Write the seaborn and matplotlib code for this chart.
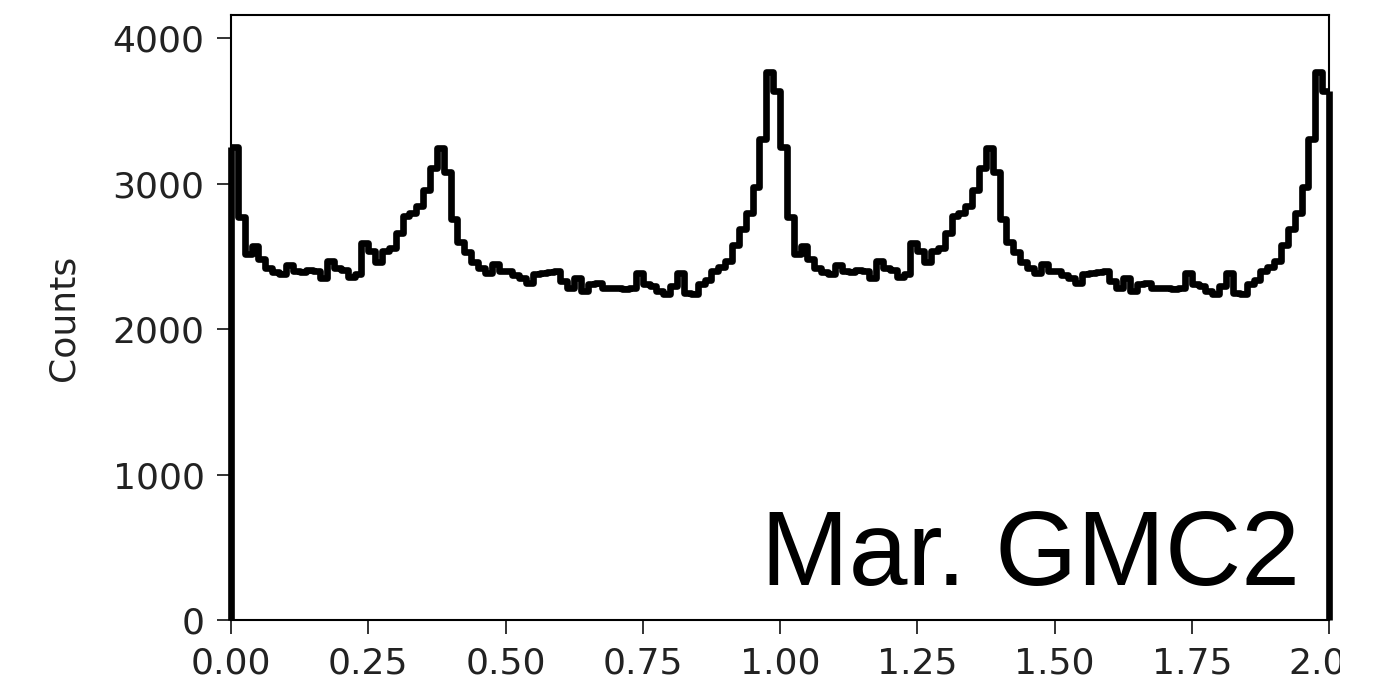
import numpy as np
import pandas as pd
import matplotlib
matplotlib.use("Agg")
import matplotlib.pyplot as plt
import seaborn as sns
from matplotlib.transforms import Bbox, TransformedBbox

# Phase-folded counts, one cycle (80 bins of width 0.0125), shown twice
counts_cycle = [
    3250, 2770, 2520, 2570, 2480, 2420, 2390, 2380, 2440, 2400,
    2390, 2410, 2400, 2350, 2470, 2420, 2410, 2360, 2380, 2590,
    2540, 2460, 2540, 2560, 2660, 2780, 2800, 2850, 2955, 3110,
    3245, 3080, 2760, 2600, 2530, 2460, 2420, 2385, 2450, 2400,
    2400, 2370, 2350, 2320, 2380, 2385, 2390, 2400, 2330, 2285,
    2355, 2260, 2310, 2315, 2285, 2280, 2280, 2275, 2280, 2385,
    2310, 2295, 2260, 2245, 2300, 2385, 2250, 2245, 2310, 2340,
    2400, 2430, 2470, 2580, 2690, 2800, 2980, 3310, 3770, 3640,
]
n_cycles = 2
label_text = "Mar. GMC2"
x_ticks = [0.0, 0.25, 0.5, 0.75, 1.0, 1.25, 1.5, 1.75, 2.0]
y_ticks = [0, 1000, 2000, 3000, 4000]

counts = np.tile(counts_cycle, n_cycles)
edges = np.linspace(0, n_cycles, len(counts) + 1)
centers = (edges[:-1] + edges[1:]) / 2
df = pd.DataFrame({"phase": centers, "counts": counts})

sns.set_style("ticks")
plt.rcParams["font.family"] = ["DejaVu Sans"]

fig = plt.figure(figsize=(13.83, 6.90), dpi=100)
ax = fig.add_axes([231 / 1383, 70 / 690, 1098 / 1383, 605 / 690])

sns.histplot(data=df, x="phase", weights="counts", bins=edges.tolist(),
             element="step", fill=False, color="black", linewidth=4.8, ax=ax)
# closing edges of the step outline down to zero
ax.vlines([edges[0], edges[-1]], 0, [counts[0], counts[-1]],
          color="black", linewidth=4.8, clip_on=False)

ax.set_xlim(0, n_cycles)
ax.set_ylim(0, 4160)
ax.set_xticks(x_ticks)
ax.set_xticklabels([f"{t:.2f}" for t in x_ticks])
ax.set_yticks(y_ticks)
ax.set_xlabel("")
ax.set_ylabel("Counts", fontsize=26, color="#222222")
ax.yaxis.set_label_coords(-0.1375, 0.5)
ax.tick_params(labelsize=26, length=10, width=1.3, pad=9, colors="#222222")
for s in ax.spines.values():
    s.set_visible(True)
    s.set_color("black")
    s.set_linewidth(1.5)

ax.text(0.9736, 0.058, label_text, transform=ax.transAxes, ha="right",
        va="baseline", fontsize=76, family="Liberation Sans", color="black")

# the original picture is cut just right of the last tick label
clip = TransformedBbox(Bbox([[0, 0], [1340 / 1383, 1]]), fig.transFigure)
for t in ax.get_xticklabels():
    t.set_clip_box(clip)
    t.set_clip_on(True)

fig.savefig("out.png", dpi=100)
